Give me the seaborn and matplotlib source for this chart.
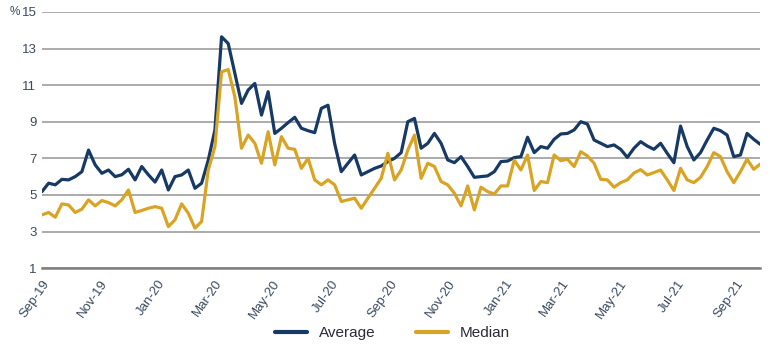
""" Average vs median weekly series, Sep-19 to Sep-21 """
import matplotlib

matplotlib.use("Agg")
from matplotlib import pyplot as plt
import matplotlib.dates as mdates
import pandas as pd
import seaborn as sns

# weekly observations, first one at start of Sep-19
start_date = "2019-09-01"

average = [
    5.18, 5.64, 5.55, 5.85, 5.82, 6.0, 6.27, 7.45, 6.64, 6.18, 6.36, 6.0, 6.1, 6.4, 5.82, 6.55, 6.1, 5.7,
    6.36, 5.27, 6.0, 6.09, 6.36, 5.36, 5.64, 6.9, 8.55, 13.64, 13.27, 11.64, 10.0, 10.73, 11.09, 9.36, 10.64, 8.36,
    8.64, 8.95, 9.24, 8.64, 8.51, 8.4, 9.73, 9.9, 7.8, 6.27, 6.73, 7.18, 6.09, 6.27, 6.45, 6.58, 6.82, 7.0,
    7.31, 9.0, 9.18, 7.55, 7.82, 8.36, 7.82, 6.91, 6.76, 7.09, 6.55, 5.96, 6.0, 6.04, 6.27, 6.82, 6.85, 7.04,
    7.09, 8.15, 7.31, 7.64, 7.55, 8.04, 8.33, 8.36, 8.55, 9.0, 8.87, 8.0, 7.82, 7.64, 7.73, 7.49, 7.05, 7.55, 7.91,
    7.67, 7.49, 7.82, 7.27, 6.76, 8.76, 7.64, 6.91, 7.31, 8.0, 8.64, 8.51, 8.27, 7.09, 7.18, 8.36, 8.04, 7.76,
]

median = [
    3.91, 4.04, 3.78, 4.51, 4.45, 4.04, 4.22, 4.73, 4.4, 4.69, 4.58, 4.4, 4.73, 5.27, 4.04, 4.15, 4.27, 4.36,
    4.27, 3.27, 3.64, 4.51, 4.0, 3.18, 3.55, 6.36, 7.64, 11.73, 11.85, 10.36, 7.55, 8.27, 7.82, 6.73, 8.45, 6.64,
    8.18, 7.55, 7.49, 6.45, 7.0, 5.82, 5.55, 5.82, 5.55, 4.64, 4.73, 4.82, 4.27, 4.82, 5.36, 5.91, 7.27, 5.82,
    6.36, 7.45, 8.27, 5.91, 6.73, 6.55, 5.73, 5.55, 5.09, 4.4, 5.49, 4.18, 5.42, 5.18, 5.05, 5.49, 5.49, 6.9,
    6.36, 7.18, 5.24, 5.73, 5.67, 7.18, 6.87, 6.95, 6.55, 7.36, 7.13, 6.73, 5.85, 5.82, 5.42, 5.67, 5.82, 6.2, 6.38,
    6.09, 6.22, 6.36, 5.82, 5.24, 6.45, 5.82, 5.67, 5.96, 6.55, 7.31, 7.09, 6.27, 5.67, 6.27, 6.95, 6.4, 6.69,
]

series_names = ["Average", "Median"]
series_colors = ["#173a64", "#d9a423"]
y_ticks = [1, 3, 5, 7, 9, 11, 13, 15]


def build_frame() -> pd.DataFrame:
    """Long format frame for seaborn"""
    dates = pd.date_range(start_date, periods=len(average), freq="7D")
    df = pd.DataFrame({"date": dates, "Average": average, "Median": median})
    return df.melt(id_vars="date", var_name="series", value_name="value")


def plot_chart(df: pd.DataFrame):
    sns.set_style("white")
    plt.rcParams["font.family"] = ["Liberation Sans", "DejaVu Sans"]

    fig = plt.figure(figsize=(7.7, 3.5), dpi=100)
    ax = fig.add_axes([0.0545, 0.234, 0.933, 0.732])

    sns.lineplot(
        data=df,
        x="date",
        y="value",
        hue="series",
        hue_order=series_names,
        palette=series_colors,
        linewidth=2.3,
        ax=ax,
        legend=False,
    )

    ax.set_ylim(1, 15)
    ax.set_yticks(y_ticks)
    ax.set_xlim(df["date"].min(), df["date"].max())
    ax.yaxis.grid(True, color="#959595", linewidth=1.1)
    ax.set_axisbelow(True)

    for side in ["left", "right", "top"]:
        ax.spines[side].set_visible(False)
    ax.spines["bottom"].set_color("#7f7f7f")
    ax.spines["bottom"].set_linewidth(1.8)

    ax.xaxis.set_major_locator(mdates.MonthLocator(bymonth=[1, 3, 5, 7, 9, 11]))
    ax.xaxis.set_major_formatter(mdates.DateFormatter("%b-%y"))
    ax.tick_params(axis="x", length=5, width=1.8, color="#7f7f7f", labelsize=9.5,
                   labelcolor="#3a4a5e", pad=2)
    ax.tick_params(axis="y", length=0, labelsize=9.5, labelcolor="#3a4a5e", pad=4)
    plt.setp(ax.get_xticklabels(), rotation=55, ha="right", rotation_mode="anchor")

    ax.set_xlabel("")
    ax.set_ylabel("")
    fig.text(0.013, 0.966, "%", fontsize=8.5, color="#3a4a5e", va="center")

    handles = [plt.Line2D([], [], color=c, linewidth=3) for c in series_colors]
    fig.legend(
        handles,
        series_names,
        loc="center",
        bbox_to_anchor=(0.51, 0.048),
        ncol=2,
        frameon=False,
        fontsize=11,
        handlelength=2.1,
        columnspacing=2.6,
        labelcolor="#2b2b3a",
    )

    fig.savefig("out.png", dpi=100)


plot_chart(build_frame())
